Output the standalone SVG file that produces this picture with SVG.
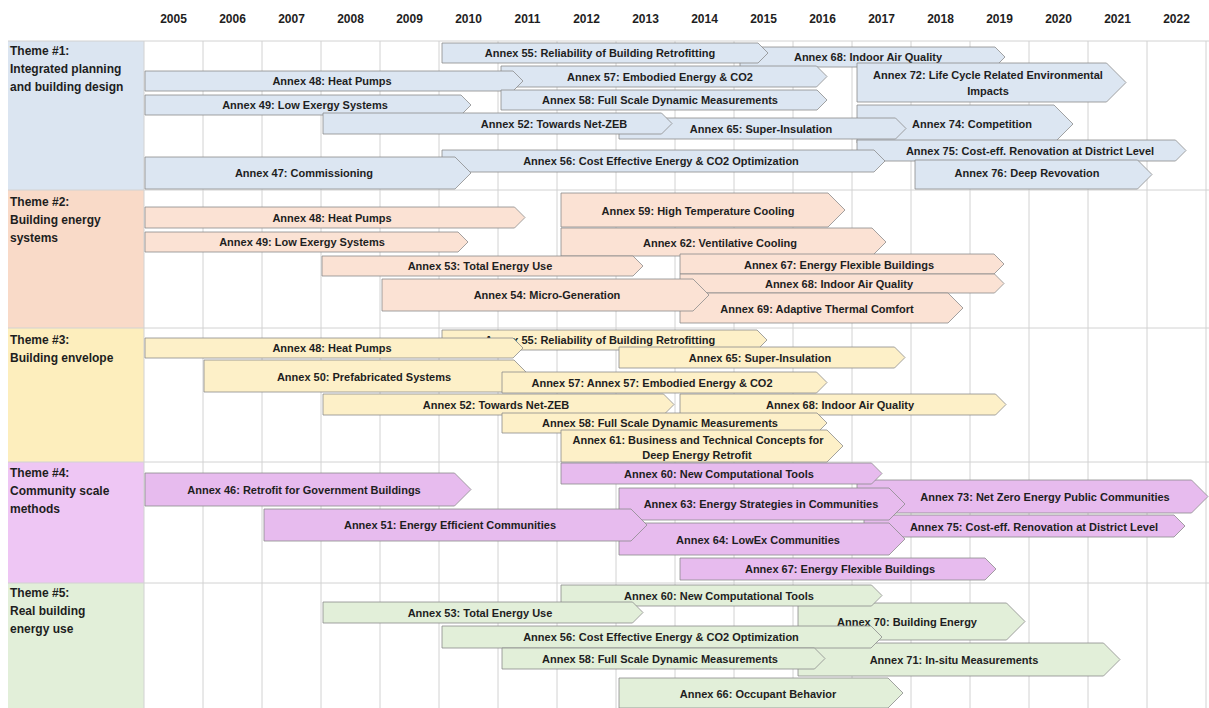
<svg xmlns="http://www.w3.org/2000/svg" width="1209" height="708" viewBox="0 0 1209 708">
<style>
text{font-family:"Liberation Sans",Arial,sans-serif;font-weight:bold;fill:#1e1e1e}
.yr{font-size:12px;text-anchor:middle}
.th{font-size:12px}
.t{font-size:11px;text-anchor:middle;dominant-baseline:central}
.bar path{stroke:#8c8c8c;stroke-width:0.8}
.c1 path{fill:#dce6f2}.c2 path{fill:#fbe2d4}.c3 path{fill:#fdf0c8}.c4 path{fill:#e7bbee}.c5 path{fill:#e2efd9}
.grid line{stroke:#d2d2d2;stroke-width:1}
</style>
<rect width="1209" height="708" fill="#ffffff"/>
<g id="themes">
<rect x="8" y="41" width="136" height="149" fill="#dbe5f1"/>
<rect x="8" y="190" width="136" height="138" fill="#f9dac8"/>
<rect x="8" y="328" width="136" height="134" fill="#fdeebd"/>
<rect x="8" y="462" width="136" height="121" fill="#eec6f4"/>
<rect x="8" y="583" width="136" height="125" fill="#e2efd9"/>
</g>
<g class="grid" id="grid">
<line x1="144" y1="41" x2="144" y2="708"/><line x1="203" y1="41" x2="203" y2="708"/><line x1="262" y1="41" x2="262" y2="708"/><line x1="321" y1="41" x2="321" y2="708"/><line x1="380" y1="41" x2="380" y2="708"/><line x1="439" y1="41" x2="439" y2="708"/><line x1="498" y1="41" x2="498" y2="708"/><line x1="557" y1="41" x2="557" y2="708"/><line x1="616" y1="41" x2="616" y2="708"/><line x1="675" y1="41" x2="675" y2="708"/><line x1="734" y1="41" x2="734" y2="708"/><line x1="793" y1="41" x2="793" y2="708"/><line x1="852" y1="41" x2="852" y2="708"/><line x1="911" y1="41" x2="911" y2="708"/><line x1="970" y1="41" x2="970" y2="708"/><line x1="1029" y1="41" x2="1029" y2="708"/><line x1="1088" y1="41" x2="1088" y2="708"/><line x1="1147" y1="41" x2="1147" y2="708"/><line x1="1206" y1="41" x2="1206" y2="708"/>
<line x1="8" y1="41" x2="1209" y2="41"/><line x1="8" y1="190" x2="1209" y2="190"/><line x1="8" y1="328" x2="1209" y2="328"/><line x1="8" y1="462" x2="1209" y2="462"/><line x1="8" y1="583" x2="1209" y2="583"/>
</g>
<g id="years">
<text class="yr" x="173.5" y="23">2005</text><text class="yr" x="232.5" y="23">2006</text><text class="yr" x="291.5" y="23">2007</text><text class="yr" x="350.5" y="23">2008</text><text class="yr" x="409.5" y="23">2009</text><text class="yr" x="468.5" y="23">2010</text><text class="yr" x="527.5" y="23">2011</text><text class="yr" x="586.5" y="23">2012</text><text class="yr" x="645.5" y="23">2013</text><text class="yr" x="704.5" y="23">2014</text><text class="yr" x="763.5" y="23">2015</text><text class="yr" x="822.5" y="23">2016</text><text class="yr" x="881.5" y="23">2017</text><text class="yr" x="940.5" y="23">2018</text><text class="yr" x="999.5" y="23">2019</text><text class="yr" x="1058.5" y="23">2020</text><text class="yr" x="1117.5" y="23">2021</text><text class="yr" x="1176.5" y="23">2022</text>
</g>
<g id="theme-labels">
<text class="th" x="10" y="55">Theme #1:</text><text class="th" x="10" y="73">Integrated planning</text><text class="th" x="10" y="91">and building design</text>
<text class="th" x="10" y="206">Theme #2:</text><text class="th" x="10" y="224">Building energy</text><text class="th" x="10" y="242">systems</text>
<text class="th" x="10" y="344">Theme #3:</text><text class="th" x="10" y="362">Building envelope</text>
<text class="th" x="10" y="477">Theme #4:</text><text class="th" x="10" y="495">Community scale</text><text class="th" x="10" y="513">methods</text>
<text class="th" x="10" y="597">Theme #5:</text><text class="th" x="10" y="615">Real building</text><text class="th" x="10" y="633">energy use</text>
</g>
<g id="theme1" class="c1">
<g id="t1_a68" class="bar"><path d="M740 47 H995 L1005 57 L995 67 H740 Z"/><text class="t" x="868" y="57">Annex 68: Indoor Air Quality</text></g>
<g id="t1_a55" class="bar"><path d="M442 43 H758 L768 53 L758 63 H442 Z"/><text class="t" x="600" y="53">Annex 55: Reliability of Building Retrofitting</text></g>
<g id="t1_a57" class="bar"><path d="M501 66 H816.5 L827 76.5 L816.5 87 H501 Z"/><text class="t" x="660" y="76.5">Annex 57: Embodied Energy &amp; CO2</text></g>
<g id="t1_a48" class="bar"><path d="M145 71 H513 L523 81 L513 91 H145 Z"/><text class="t" x="332" y="81">Annex 48: Heat Pumps</text></g>
<g id="t1_a58" class="bar"><path d="M501 90 H817 L827 100 L817 110 H501 Z"/><text class="t" x="660" y="100">Annex 58: Full Scale Dynamic Measurements</text></g>
<g id="t1_a49" class="bar"><path d="M145 95 H461 L471 105 L461 115 H145 Z"/><text class="t" x="305" y="105">Annex 49: Low Exergy Systems</text></g>
<g id="t1_a72" class="bar"><path d="M857 63 H1106.5 L1126 82.5 L1106.5 102 H857 Z"/><text class="t" x="988" y="75">Annex 72: Life Cycle Related Environmental</text><text class="t" x="988" y="91">Impacts</text></g>
<g id="t1_a74" class="bar"><path d="M857 105 H1054 L1073 124 L1054 143 H857 Z"/><text class="t" x="972" y="124">Annex 74: Competition</text></g>
<g id="t1_a65" class="bar"><path d="M619 118 H895.5 L906 128.5 L895.5 139 H619 Z"/><text class="t" x="761" y="129">Annex 65: Super-Insulation</text></g>
<g id="t1_a52" class="bar"><path d="M323 113 H661.5 L672 123.5 L661.5 134 H323 Z"/><text class="t" x="554" y="124">Annex 52: Towards Net-ZEB</text></g>
<g id="t1_a75" class="bar"><path d="M857 140 H1175.5 L1186 150.5 L1175.5 161 H857 Z"/><text class="t" x="1030" y="150.5">Annex 75: Cost-eff. Renovation at District Level</text></g>
<g id="t1_a76" class="bar"><path d="M915 160 H1137.5 L1152 174.5 L1137.5 189 H915 Z"/><text class="t" x="1027" y="173">Annex 76: Deep Revovation</text></g>
<g id="t1_a56" class="bar"><path d="M442 150 H874 L885 161 L874 172 H442 Z"/><text class="t" x="661" y="161">Annex 56: Cost Effective Energy &amp; CO2 Optimization</text></g>
<g id="t1_a47" class="bar"><path d="M145 157 H455 L471 173 L455 189 H145 Z"/><text class="t" x="304" y="173">Annex 47: Commissioning</text></g>
</g>
<g id="theme2" class="c2">
<g id="t2_a59" class="bar"><path d="M561 193 H828 L845 210 L828 227 H561 Z"/><text class="t" x="698" y="211">Annex 59: High Temperature Cooling</text></g>
<g id="t2_a62" class="bar"><path d="M561 228 H872 L886 242 L872 256 H561 Z"/><text class="t" x="720" y="243">Annex 62: Ventilative Cooling</text></g>
<g id="t2_a67" class="bar"><path d="M680 254 H994 L1004 264 L994 274 H680 Z"/><text class="t" x="839" y="264.5">Annex 67: Energy Flexible Buildings</text></g>
<g id="t2_a68" class="bar"><path d="M680 274 H994.5 L1004 283.5 L994.5 293 H680 Z"/><text class="t" x="839" y="284">Annex 68: Indoor Air Quality</text></g>
<g id="t2_a69" class="bar"><path d="M680 293 H948 L963 308 L948 323 H680 Z"/><text class="t" x="817" y="309">Annex 69: Adaptive Thermal Comfort</text></g>
<g id="t2_a53" class="bar"><path d="M322 256 H633 L643 266 L633 276 H322 Z"/><text class="t" x="480" y="266">Annex 53: Total Energy Use</text></g>
<g id="t2_a54" class="bar"><path d="M382 279 H693 L709 295 L693 311 H382 Z"/><text class="t" x="547" y="295">Annex 54: Micro-Generation</text></g>
<g id="t2_a48" class="bar"><path d="M145 207 H514.5 L525 217.5 L514.5 228 H145 Z"/><text class="t" x="332" y="217.5">Annex 48: Heat Pumps</text></g>
<g id="t2_a49" class="bar"><path d="M145 232 H458 L468 242 L458 252 H145 Z"/><text class="t" x="302" y="242">Annex 49: Low Exergy Systems</text></g>
</g>
<g id="theme3" class="c3">
<g id="t3_a55" class="bar"><path d="M442 330 H757 L767 340 L757 350 H442 Z"/><text class="t" x="600" y="340">Annex 55: Reliability of Building Retrofitting</text></g>
<g id="t3_a48" class="bar"><path d="M145 338 H513 L523 348 L513 358 H145 Z"/><text class="t" x="332" y="348">Annex 48: Heat Pumps</text></g>
<g id="t3_a65" class="bar"><path d="M619 347 H894.5 L905 357.5 L894.5 368 H619 Z"/><text class="t" x="760" y="358">Annex 65: Super-Insulation</text></g>
<g id="t3_a50" class="bar"><path d="M204 360 H514 L530 376 L514 392 H204 Z"/><text class="t" x="364" y="377">Annex 50: Prefabricated Systems</text></g>
<g id="t3_a57" class="bar"><path d="M502 372 H816.5 L827 382.5 L816.5 393 H502 Z"/><text class="t" x="652" y="382.5">Annex 57: Annex 57: Embodied Energy &amp; CO2</text></g>
<g id="t3_a52" class="bar"><path d="M323 394 H663.5 L674 404.5 L663.5 415 H323 Z"/><text class="t" x="496" y="405">Annex 52: Towards Net-ZEB</text></g>
<g id="t3_a68" class="bar"><path d="M680 394 H995.5 L1006 404.5 L995.5 415 H680 Z"/><text class="t" x="840" y="405">Annex 68: Indoor Air Quality</text></g>
<g id="t3_a58" class="bar"><path d="M502 413 H817 L827 423 L817 433 H502 Z"/><text class="t" x="660" y="423">Annex 58: Full Scale Dynamic Measurements</text></g>
<g id="t3_a61" class="bar"><path d="M561 430 H827 L843 446 L827 462 H561 Z"/><text class="t" x="698" y="440">Annex 61: Business and Technical Concepts for</text><text class="t" x="697" y="455">Deep Energy Retrofit</text></g>
</g>
<g id="theme4" class="c4">
<g id="t4_a73" class="bar"><path d="M857 480 H1191.5 L1208 496.5 L1191.5 513 H857 Z"/><text class="t" x="1045" y="497">Annex 73: Net Zero Energy Public Communities</text></g>
<g id="t4_a75" class="bar"><path d="M864 515 H1174 L1185 526 L1174 537 H864 Z"/><text class="t" x="1034" y="527">Annex 75: Cost-eff. Renovation at District Level</text></g>
<g id="t4_a60" class="bar"><path d="M561 463 H871.5 L882 473.5 L871.5 484 H561 Z"/><text class="t" x="719" y="474">Annex 60: New Computational Tools</text></g>
<g id="t4_a63" class="bar"><path d="M619 488 H889 L905 504 L889 520 H619 Z"/><text class="t" x="761" y="504">Annex 63: Energy Strategies in Communities</text></g>
<g id="t4_a64" class="bar"><path d="M619 523 H889 L905 539 L889 555 H619 Z"/><text class="t" x="758" y="540">Annex 64: LowEx Communities</text></g>
<g id="t4_a46" class="bar"><path d="M145 473 H454.5 L471 489.5 L454.5 506 H145 Z"/><text class="t" x="304" y="490">Annex 46: Retrofit for Government Buildings</text></g>
<g id="t4_a51" class="bar"><path d="M264 509 H631 L647 525 L631 541 H264 Z"/><text class="t" x="450" y="525">Annex 51: Energy Efficient Communities</text></g>
<g id="t4_a67" class="bar"><path d="M680 558 H985 L996 569 L985 580 H680 Z"/><text class="t" x="840" y="569">Annex 67: Energy Flexible Buildings</text></g>
</g>
<g id="theme5" class="c5">
<g id="t5_a70" class="bar"><path d="M798 603 H1006.5 L1025 621.5 L1006.5 640 H798 Z"/><text class="t" x="907" y="622">Annex 70: Building Energy</text></g>
<g id="t5_a71" class="bar"><path d="M798 643 H1103.5 L1120 659.5 L1103.5 676 H798 Z"/><text class="t" x="954" y="660">Annex 71: In-situ Measurements</text></g>
<g id="t5_a60" class="bar"><path d="M561 585 H871.5 L882 595.5 L871.5 606 H561 Z"/><text class="t" x="719" y="596">Annex 60: New Computational Tools</text></g>
<g id="t5_a53" class="bar"><path d="M323 602 H632.5 L643 612.5 L632.5 623 H323 Z"/><text class="t" x="480" y="613">Annex 53: Total Energy Use</text></g>
<g id="t5_a56" class="bar"><path d="M442 626 H871 L882 637 L871 648 H442 Z"/><text class="t" x="661" y="637">Annex 56: Cost Effective Energy &amp; CO2 Optimization</text></g>
<g id="t5_a58" class="bar"><path d="M502 648 H814.5 L825 658.5 L814.5 669 H502 Z"/><text class="t" x="660" y="659">Annex 58: Full Scale Dynamic Measurements</text></g>
<g id="t5_a66" class="bar"><path d="M619 678 H888 L903 693 L888 708 H619 Z"/><text class="t" x="758" y="694">Annex 66: Occupant Behavior</text></g>
</g>
</svg>
